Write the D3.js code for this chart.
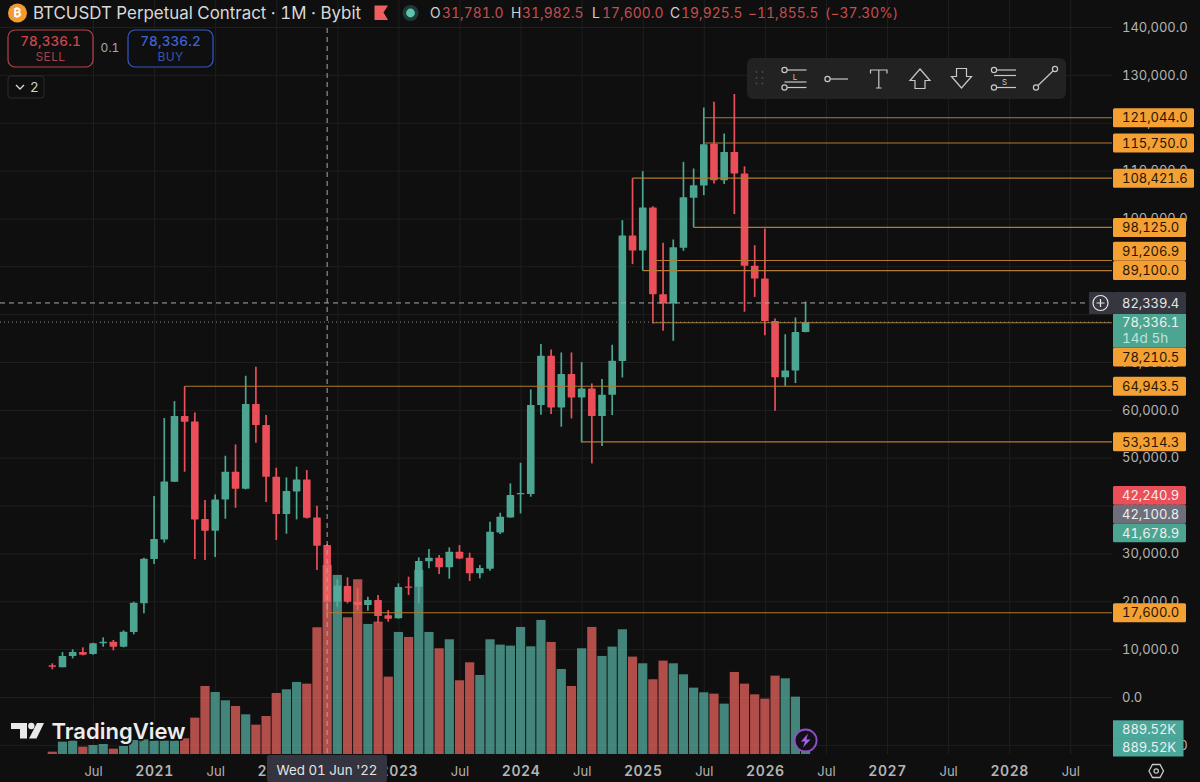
<!DOCTYPE html>
<html><head><meta charset="utf-8">
<script src="https://cdn.jsdelivr.net/npm/d3@7"></script>
<style>html,body{margin:0;padding:0;background:#0f0f0f}svg{display:block}text{font-family:Inter,"Noto Sans",sans-serif;font-variant-numeric:tabular-nums}</style>
</head><body><svg id="c" width="1200" height="782"></svg>
<script>
// ---------- data (Mar 2020 .. May 2026, monthly) ----------
const opens = [6615,6197,8565,9400,8982,11210,11559,10514,13578,19566,
 28827,32935,44981,58698,57584,37183,34746,41291,47070,43519,61205,56818,
 46025,38227,42962,45468,37531,31781,19925.5,23187,19914,19218,20262,17059,
 16433,23100,23048,28340,29105,27086,30358,29105,25833,26807,34398,37531,
 42405,42405,60996,71301,60509,67472,62597,64478,58698,63154,70188,96437,
 93304,102286,84182,82200,93860,104306,106880,115600,108000,113900,109400,90100,
 87450,78550,66800,68200,76250];
const highs = [7033,9400,9957,10375,11350,12464,11907,13926,19914,29106,
 41987,58281,61832,64943.5,59465,41151,42335,50412,52780,67124,69003,58907,
 47905,45886,48114,47418,39968,31982.5,24600,24997,22700,20958,21307,18173,
 23744,25136,29175,30916,29662,31264,31752,30150,27574,36626,38505,44633,
 48950,64269,73738,72624,71997,71997,69978,65522,66425,73599,99640,108421.6,
 109880,102564,94905,95601,111825,110435,123177,124360,117750,126000,110900,94400,
 97900,79100,75800,79300,82650];
const lows = [5779,6197,8077,8704,8843,10514,9748,10375,13091,17477,
 27782,32239,44912,47071,28827,28618,29245,37252,39550,43380,53128,40734,
 32796,34119,37113,37300,26529,17600,18800,19566,18100,18034,15527,15736,
 16363,21307,19566,26877,25693,24719,28827,24231,24788,26390,34050,37461,
 38366,41848,58976,59116,56470,58210,53197,48810,52432,58907,66773,90450,
 89056,78056,76520,74434,93233,98108,104862,107300,107200,100900,80500,83600,
 75600,59800,65000,65600,76200];
const closes = [6336,8565,9400,8843,11210,11559,10514,13648,19705,28897,
 33005,45051,58698,57514,37113,34746,41291,47070,43519,61205,56818,46025,
 38227,43032,45468,37461,31612,19925.5,23300,19914,19200,20262,16920,16363,
 22978,23000,28410,29105,27086,30358,28966,25833,26947,34537,37670,42196,
 42614,60996,71301,60509,67472,62597,64478,58698,63154,70257,96437,93304,
 102286,84182,82200,94000,104445,106950,115518,108000,113900,109400,90100,87450,
 78550,66800,68200,76250,78336.1];
const volumesK = [350,1850,2000,1100,1350,1500,800,1200,2100,2200,
 2000,2000,2000,2350,5450,10200,9300,8050,7200,5950,4400,5700,
 9150,9700,10800,10550,19000,28350,26850,20500,26200,19500,19850,11600,
 18300,17550,27600,18300,15850,17200,11050,13750,11850,17200,16400,16250,
 19050,16150,20100,16800,12750,10200,15850,19050,14700,16100,18700,14600,
 13600,11200,14000,13600,11950,9950,9250,9050,7550,12300,10550,8950,
 8300,11750,11350,8600,889.52];
const priceTicks = [140000,130000,120000,110000,100000,90000,80000,70000,60000,50000,40000,30000,20000,10000,0,-10000];
const timeTickMonths = [4,10,16,22,28,34,40,46,52,58,64,70,76,82,88,94,100];
const timeTickLabels = ["Jul","2021","Jul","2022","Jul","2023","Jul","2024","Jul","2025","Jul","2026","Jul","2027","Jul","2028","Jul"];
const levelValues = [121044.0,115750.0,108421.6,98125.0,91206.9,89100.0,78210.5,64943.5,53314.3,17600.0];
const levelStartMonths = [64,64,57,63,59,58,59,13,52,27];
const stackedValues = [42240.9,42100.8,41678.9];
const crosshairPrice = 82339.4, lastPrice = 78336.1, crosshairMonth = 27;

// ---------- scales ----------
const svg = d3.select("#c");
const W = 1200, H = 782, axisX = 1112;
const x = d3.scaleLinear().domain([0,74]).range([52.3,805.6]);
const y = d3.scaleLinear().domain([0,140000]).range([697,27]);
const volY = d3.scaleLinear().domain([0,1000]).range([754,747.33]);
const fmt = d3.format(",.1f");
const GREEN="#4ba590", RED="#ea4f59", BARG="#55ae9f", BARR="#e8645f", ORANGE="#f5a033", LINE="#b47a30", GREY="#b4b4b4";
const isUp = i => closes[i] >= opens[i];
const FS = 13, LS = -.05;

svg.append("rect").attr("width",W).attr("height",H).attr("fill","#0f0f0f");

// ---------- grid ----------
const gridH = svg.append("g").call(d3.axisRight(y).tickValues(priceTicks).tickSize(axisX).tickFormat(""));
gridH.select(".domain").remove();
gridH.selectAll("line").attr("stroke","#1f1f1f");
const gridV = svg.append("g").attr("transform","translate(0,754)")
  .call(d3.axisTop(x).tickValues(timeTickMonths).tickSize(754).tickFormat(""));
gridV.select(".domain").remove();
gridV.selectAll("line").attr("stroke","#1f1f1f");

// ---------- candles ----------
const idx = d3.range(closes.length);
const cw = 7.6;
svg.append("g").selectAll("line").data(idx).join("line")
  .attr("x1",i=>x(i)).attr("x2",i=>x(i)).attr("y1",i=>y(highs[i])).attr("y2",i=>y(lows[i]))
  .attr("stroke",i=>isUp(i)?GREEN:RED).attr("stroke-width",1.7);
svg.append("g").selectAll("rect").data(idx).join("rect")
  .attr("x",i=>x(i)-cw/2).attr("width",cw)
  .attr("y",i=>y(Math.max(opens[i],closes[i])))
  .attr("height",i=>Math.max(1.2,Math.abs(y(opens[i])-y(closes[i]))))
  .attr("rx",.6).attr("fill",i=>isUp(i)?GREEN:RED);

// ---------- volume ----------
svg.append("g").selectAll("rect").data(idx).join("rect")
  .attr("x",i=>x(i)-4.6).attr("width",9.2)
  .attr("y",i=>volY(volumesK[i])).attr("height",i=>754-volY(volumesK[i]))
  .attr("fill",i=>isUp(i)?BARG:BARR).attr("opacity",.75);

// ---------- level lines ----------
svg.append("g").selectAll("line").data(levelValues).join("line")
  .attr("x1",(v,k)=>x(levelStartMonths[k])).attr("x2",axisX)
  .attr("y1",v=>y(v)).attr("y2",v=>y(v))
  .attr("stroke",LINE).attr("stroke-width",1.1);

// ---------- last price dotted + crosshair ----------
svg.append("line").attr("x1",0).attr("x2",axisX).attr("y1",y(lastPrice)).attr("y2",y(lastPrice))
  .attr("stroke","#8a8a7a").attr("stroke-width",1).attr("stroke-dasharray","1 3");
svg.append("line").attr("x1",0).attr("x2",1088).attr("y1",y(crosshairPrice)).attr("y2",y(crosshairPrice))
  .attr("stroke","#a8a8a8").attr("stroke-width",1).attr("stroke-dasharray","5 4");
svg.append("line").attr("x1",x(crosshairMonth)).attr("x2",x(crosshairMonth)).attr("y1",28).attr("y2",755)
  .attr("stroke","#a8a8a8").attr("stroke-width",1).attr("stroke-dasharray","5 4");

// ---------- axes ----------
const yAxis = svg.append("g").attr("transform","translate(1122,0)")
  .call(d3.axisRight(y).tickValues(priceTicks).tickSize(0).tickPadding(0).tickFormat(v=>fmt(v).replace("-","−")));
yAxis.select(".domain").remove();
yAxis.selectAll("text").attr("fill",GREY).attr("font-size",FS).attr("font-family","Inter").attr("letter-spacing",LS);

const isJul = d => timeTickLabels[timeTickMonths.indexOf(d)]==="Jul";
const xAxis = svg.append("g").attr("transform","translate(0,771)")
  .call(d3.axisBottom(x).tickValues(timeTickMonths).tickSize(0).tickPadding(0).tickFormat((d,i)=>timeTickLabels[i]));
xAxis.select(".domain").remove();
xAxis.selectAll("text").attr("dy",".35em").attr("y",0).attr("font-family","Inter")
  .attr("font-size",d=>isJul(d)?13:14)
  .attr("font-weight",d=>isJul(d)?400:600)
  .attr("letter-spacing",d=>isJul(d)?0:.6)
  .attr("fill",GREY);

// ---------- tags on the price axis ----------
const tagShift = {"91,206.9":-9.3,"78,210.5":34.3};
function tag(cy,label,fill,color,h=19,wd=73){
  svg.append("rect").attr("x",1113).attr("y",cy-h/2).attr("width",wd).attr("height",h).attr("rx",1.5).attr("fill",fill);
  svg.append("text").attr("x",1122).attr("y",cy).attr("dy",".36em").attr("font-size",FS).attr("letter-spacing",LS).attr("fill",color).text(label);
}
levelValues.forEach(v=>{
  const s = fmt(v);
  tag(y(v)+(tagShift[s]||0), s, ORANGE, "#241705", 19, s.length>8?81:73);
});
// current price two-line tag
svg.append("rect").attr("x",1113).attr("y",314).attr("width",73).attr("height",33.5).attr("fill",GREEN);
svg.append("text").attr("x",1122).attr("y",327).attr("font-size",FS).attr("letter-spacing",LS).attr("fill","#f0f0f0").text(fmt(lastPrice));
svg.append("text").attr("x",1122).attr("y",343).attr("font-size",13.5).attr("fill","#bfe3da").text("14d 5h");
// crosshair tag
tag(303,fmt(crosshairPrice),"#35363f","#e6e6e6",22,73);
svg.append("rect").attr("x",1089).attr("y",292).attr("width",24).attr("height",22).attr("fill","#35363f");
svg.append("circle").attr("cx",1100.5).attr("cy",303).attr("r",7.5).attr("fill","none").attr("stroke","#e8e8e8").attr("stroke-width",1.2);
svg.append("path").attr("d","M1096.5,303H1104.5M1100.5,299V307").attr("stroke","#e8e8e8").attr("stroke-width",1.2);
// stacked tags
const stackFill=[RED,"#6e6f7b",GREEN];
stackedValues.forEach((v,i)=>tag(495.3+18.8*i,fmt(v),stackFill[i],"#eeeeee",18.8,73));
// volume tags
const volTag = d3.format(",.2f")(volumesK[74])+"K";
[729.5,747.3].forEach(cy=>{
  svg.append("rect").attr("x",1113).attr("y",cy-9.2).attr("width",70.5).attr("height",18.4).attr("fill","#4ba79a");
  svg.append("text").attr("x",1122).attr("y",cy).attr("dy",".36em").attr("font-size",FS).attr("letter-spacing",LS).attr("fill","#eeeeee").text(volTag);
});

// tooltip under crosshair
svg.append("rect").attr("x",267).attr("y",755).attr("width",120).attr("height",27).attr("rx",2).attr("fill","#33343f");
svg.append("text").attr("x",327).attr("y",771).attr("dy",".3em").attr("text-anchor","middle").attr("font-size",13.3).attr("fill","#e4e4e4").text("Wed 01 Jun '22");

// settings hexagon
svg.append("path").attr("d","M1149,771L1152.5,764.5H1160L1163.5,771L1160,777.5H1152.5Z").attr("fill","none").attr("stroke","#c8c8c8").attr("stroke-width",1.3);
svg.append("circle").attr("cx",1156.2).attr("cy",771).attr("r",2.2).attr("fill","none").attr("stroke","#c8c8c8").attr("stroke-width",1.2);

// lightning
svg.append("circle").attr("cx",805.6).attr("cy",740.5).attr("r",11).attr("fill","#14101a").attr("stroke","#8f4fc9").attr("stroke-width",1.8);
svg.append("path").attr("d","M808,733.5L801,741.5H805L803,747.5L810.5,739.5H806.3Z").attr("fill","#a860e8");

// ---------- header ----------
svg.append("circle").attr("cx",17.5).attr("cy",13).attr("r",9.5).attr("fill","#f39b33");
svg.append("text").attr("x",17.5).attr("y",13).attr("dy",".36em").attr("text-anchor","middle").attr("font-size",12).attr("font-weight",700).attr("font-family","DejaVu Sans").attr("fill","#fff").text("₿");
svg.append("text").attr("x",33).attr("y",13).attr("dy",".36em").attr("font-size",16.9).attr("fill","#d8d8d8").text("BTCUSDT Perpetual Contract · 1M · Bybit");
svg.append("path").attr("d","M374.5,5.5H388L383.5,12.5L388,20H374.5Z").attr("fill","#ef5f5f");
svg.append("circle").attr("cx",410.5).attr("cy",13).attr("r",8).attr("fill","#1d3a36");
svg.append("circle").attr("cx",410.5).attr("cy",13).attr("r",4.4).attr("fill","#5fc4ad");
const HDR="#c64d50";
[["O",430,"#cfcfcf"],["31,781.0",442,HDR],["H",511,"#cfcfcf"],["31,982.5",522,HDR],["L",592,"#cfcfcf"],["17,600.0",602,HDR],["C",670,"#cfcfcf"],["19,925.5",681,HDR],["−11,855.5",748,HDR],["(−37.30%)",825,HDR]]
 .forEach(([t,px,c])=>svg.append("text").attr("x",px).attr("y",13).attr("dy",".36em").attr("font-size",13.8).attr("letter-spacing",.05).attr("fill",c).text(t));

// ---------- buy / sell ----------
function tradeBox(bx,col,price,lab,c1,c2){
  svg.append("rect").attr("x",bx).attr("y",30).attr("width",85).attr("height",37).attr("rx",7).attr("fill","#0f0f0f").attr("stroke",col).attr("stroke-width",1.2);
  svg.append("text").attr("x",bx+42.5).attr("y",46).attr("text-anchor","middle").attr("font-size",13.5).attr("font-weight",500).attr("letter-spacing",.1).attr("fill",c1).text(price);
  svg.append("text").attr("x",bx+42.5).attr("y",61).attr("text-anchor","middle").attr("font-size",12).attr("letter-spacing",.4).attr("fill",c2).text(lab);
}
tradeBox(8,"#b5444a","78,336.1","SELL","#c9474c","#a5424a");
tradeBox(128,"#3658c8","78,336.2","BUY","#3f62d4","#3a55b0");
svg.append("text").attr("x",110).attr("y",48.5).attr("dy",".3em").attr("text-anchor","middle").attr("font-size",12).attr("fill","#a8a8a8").text("0.1");
svg.append("rect").attr("x",8).attr("y",76).attr("width",36).attr("height",22).attr("rx",3).attr("fill","#0f0f0f").attr("stroke","#2c2c2c");
svg.append("path").attr("d","M16,85L20,89L24,85").attr("fill","none").attr("stroke","#d8d8d8").attr("stroke-width",1.3);
svg.append("text").attr("x",34.5).attr("y",87).attr("dy",".36em").attr("text-anchor","middle").attr("font-size",13.5).attr("fill","#d0d0d0").text("2");

// ---------- drawing toolbar ----------
svg.append("rect").attr("x",747).attr("y",58).attr("width",319).attr("height",41).attr("rx",6).attr("fill","#222222");
const tb = svg.append("g").attr("fill","none").attr("stroke","#c8c8c8").attr("stroke-width",1.2);
[[755,72],[761,72],[755,78],[761,78],[755,83.5],[761,83.5]].forEach(p=>svg.append("circle").attr("cx",p[0]+1.5).attr("cy",p[1]).attr("r",.9).attr("fill","#4a4a4a"));
function lineIcon(lx,cy,x2){tb.append("circle").attr("cx",lx).attr("cy",cy).attr("r",2.6);tb.append("path").attr("d",`M${lx+2.6},${cy}H${x2}`);}
lineIcon(784.5,70,806.5);
tb.append("path").attr("d","M784.5,82H806.5");
lineIcon(784.5,87.5,806.5);
svg.append("text").attr("x",795).attr("y",80).attr("text-anchor","middle").attr("font-size",8).attr("fill","#c8c8c8").text("L");
lineIcon(827.5,79,848);
tb.append("path").attr("d","M870.5,73.5V70H887V73.5M878.8,70V88M876,88H881.5");
tb.append("path").attr("d","M920,69L930,80.5H925V88.5H915V80.5H910Z");
tb.append("path").attr("d","M961.5,88L951.5,76.5H956.5V68.5H966.5V76.5H971.5Z");
lineIcon(994,70,1016);
tb.append("path").attr("d","M994,75.5H1016");
lineIcon(994,87.5,1016);
svg.append("text").attr("x",1004.5).attr("y",85).attr("text-anchor","middle").attr("font-size",8).attr("fill","#c8c8c8").text("S");
tb.append("circle").attr("cx",1036).attr("cy",87.5).attr("r",2.6);
tb.append("circle").attr("cx",1055).attr("cy",69).attr("r",2.6);
tb.append("path").attr("d","M1038,85.5L1053,71");

// ---------- watermark ----------
const wm = svg.append("g");
wm.append("path").attr("d","M11,723H27V738.5H20V729H11Z M37,723H44L36.5,738.5H29Z").attr("fill","#e8e8e8").attr("stroke","#0f0f0f").attr("stroke-width",1.2).attr("paint-order","stroke");
wm.append("circle").attr("cx",31.3).attr("cy",726).attr("r",3.2).attr("fill","#e8e8e8");
wm.append("text").attr("x",51.5).attr("y",738.5).attr("font-size",22).attr("font-weight",600).attr("fill","#ececec").attr("stroke","#0f0f0f").attr("stroke-width",3).attr("paint-order","stroke").text("TradingView");
</script></body></html>
